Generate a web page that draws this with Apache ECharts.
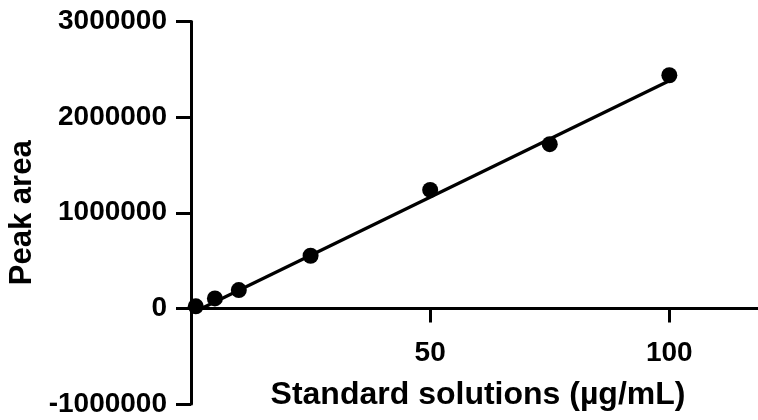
<!DOCTYPE html>
<html>
<head>
<meta charset="utf-8">
<script src="https://cdn.jsdelivr.net/npm/echarts@6/dist/echarts.min.js"></script>
<style>
  html, body { margin: 0; padding: 0; background: #fff; }
  #main { width: 758px; height: 420px; }
</style>
</head>
<body>
<div id="main"></div>
<script>
// 标准曲线数据
var concentrations = [1, 5, 10, 25, 50, 75, 100];
var peakAreas = [21000, 104000, 191000, 550000, 1239000, 1717000, 2438000];
// 拟合直线两端
var fitX = [1, 100];
var fitY = [-30000, 2380000];
var xTickValues = [50, 100];
var yTickLabels = ['-1000000', '0', '1000000', '2000000', '3000000'];

var myChart = echarts.init(document.getElementById('main'));

var pointData = concentrations.map(function (x, i) { return [x, peakAreas[i]]; });
var lineData = fitX.map(function (x, i) { return [x, fitY[i]]; });

var font = 'Liberation Sans, Arial, sans-serif';

var option = {
    animation: false,
    backgroundColor: '#fff',
    grid: { left: 191, right: -7, top: 21.5, bottom: 16, containLabel: false, outerBoundsMode: 'none' },
    xAxis: {
        type: 'value',
        min: 0,
        max: 120,
        interval: 50,
        // x轴放在 y=0 处（-1000000..3000000 的 1/4 处）
        offset: -95.5,
        name: 'Standard solutions (µg/mL)',
        nameLocation: 'middle',
        nameGap: 71,
        nameTextStyle: { color: '#000', fontSize: 32, fontWeight: 'bold', fontFamily: font },
        axisLine: { onZero: false, lineStyle: { color: '#000', width: 3 } },
        axisTick: { show: true, length: 14, lineStyle: { color: '#000', width: 3 }, customValues: xTickValues },
        axisLabel: { color: '#000', fontSize: 28, fontWeight: 'bold', fontFamily: font, margin: 31, customValues: xTickValues },
        splitLine: { show: false }
    },
    yAxis: {
        type: 'value',
        min: -1000000,
        max: 3000000,
        interval: 1000000,
        name: 'Peak area',
        nameLocation: 'middle',
        nameGap: 148,
        nameTextStyle: { color: '#000', fontSize: 31, fontWeight: 'bold', fontFamily: font },
        axisLine: { show: true, onZero: false, lineStyle: { color: '#000', width: 3 } },
        axisTick: { show: true, length: 15, lineStyle: { color: '#000', width: 3 } },
        axisLabel: {
            color: '#000', fontSize: 28, fontWeight: 'bold', fontFamily: font, margin: 24,
            formatter: function (v) {
                var i = Math.round((v + 1000000) / 1000000);
                return yTickLabels[i] !== undefined ? yTickLabels[i] : '';
            }
        },
        splitLine: { show: false }
    },
    series: [
        {
            type: 'line',
            data: lineData,
            symbol: 'none',
            lineStyle: { color: '#000', width: 3.2 },
            z: 2
        },
        {
            type: 'scatter',
            data: pointData,
            symbol: 'circle',
            symbolSize: 16,
            itemStyle: { color: '#000', opacity: 1 },
            z: 3
        }
    ]
};

myChart.setOption(option);
</script>
</body>
</html>
